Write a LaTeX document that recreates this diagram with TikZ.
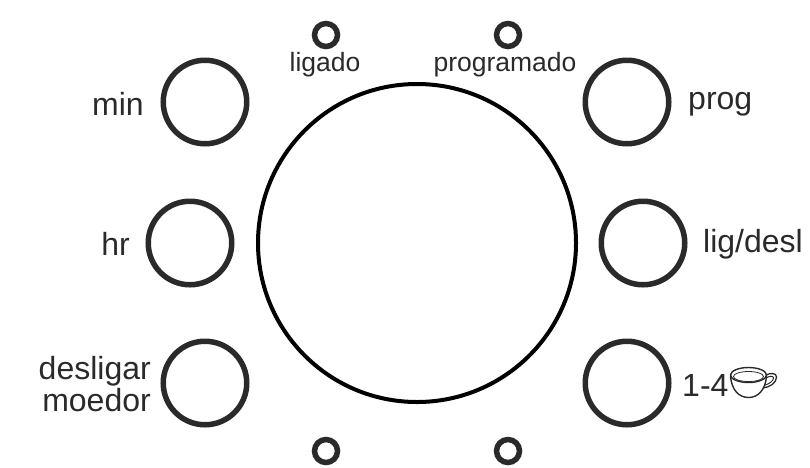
\documentclass[tikz,border=0pt]{standalone}
\usepackage{fontspec}
\setmainfont{Liberation Sans}
\definecolor{ink}{HTML}{2A2A2A}
\tikzset{
  btn/.style={circle,draw=ink,line width=5.5pt,minimum size=83.5pt,inner sep=0pt},
  led/.style={circle,draw=ink,line width=5.5pt,minimum size=23pt,inner sep=0pt},
  big/.style={circle,draw=black,line width=4pt,minimum size=318pt,inner sep=0pt},
  lab/.style={text=ink,font=\fontsize{32}{36}\selectfont,inner sep=0pt},
  smalllab/.style={text=ink,font=\fontsize{26.5}{30}\selectfont,inner sep=0pt},
  cupline/.style={draw=ink,line width=1.3pt,fill=none}
}
\begin{document}
\begin{tikzpicture}[x=1pt,y=-1pt]
\useasboundingbox (0,0) rectangle (810,467);
\node[big] (dial) at (417,243) {};
\node[btn] (min) at (205,102) {};
\node[btn] (prog) at (627,102) {};
\node[btn] (hr) at (190,243) {};
\node[btn] (lig) at (643,243) {};
\node[btn] (moe) at (205,383) {};
\node[btn] (cups) at (627,383) {};
\node[led] (l1) at (326,35) {};
\node[led] (l2) at (508,35) {};
\node[led] (l3) at (326,451) {};
\node[led] (l4) at (508,451) {};
\node[smalllab,anchor=base] (tl) at (325,71) {ligado};
\node[smalllab,anchor=base] (tp) at (505,71) {programado};
\node[lab,anchor=base east] (tmin) at (144,115) {min};
\node[lab,anchor=base west] (tprog) at (688,109) {prog};
\node[lab,anchor=base east] (thr) at (130,255) {hr};
\node[lab,anchor=base west] (tlig) at (703,252) {lig/desl};
\node[lab,anchor=base east] (tdes) at (151,379) {desligar};
\node[lab,anchor=base east] (tmoe) at (151,411) {moedor};
\node[lab,anchor=base west] (t14) at (682,396) {1-4};
\draw[cupline,line width=1.4pt] (748.5,375) ellipse (18pt and 7.5pt);
\draw[cupline,line width=0.8pt] (748.5,376.5) ellipse (15pt and 5pt);
\draw[cupline,line width=1.4pt] (730.5,376) .. controls (731.5,390) and (739,397.5) .. (748.5,397.5) .. controls (758,397.5) and (765.5,390) .. (766.5,376);
\draw[cupline] (766,375) .. controls (770,373) and (776.5,372.5) .. (776.5,377) .. controls (776.5,383) and (770,387) .. (763,388);
\draw[cupline,line width=1pt] (766,378) .. controls (769,376) and (773.5,375.5) .. (773.5,378) .. controls (773.5,381) and (769,384) .. (765,385);
\end{tikzpicture}
\end{document}
